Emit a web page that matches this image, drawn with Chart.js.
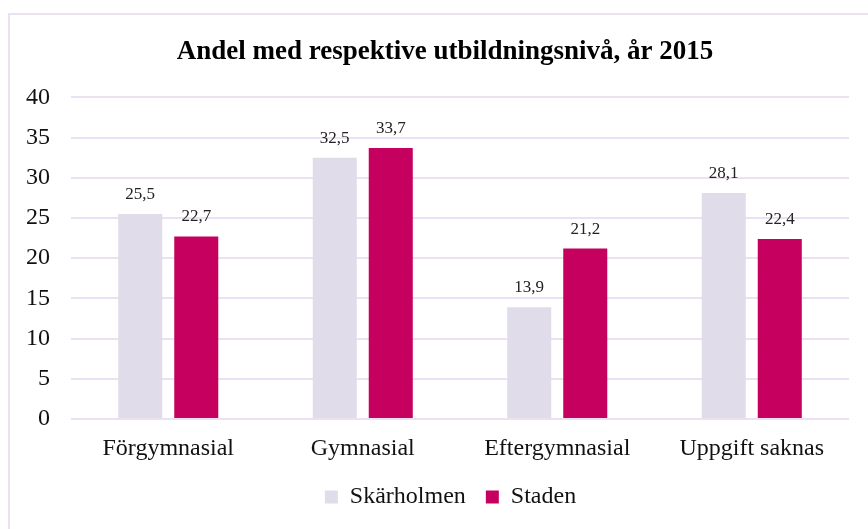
<!DOCTYPE html>
<html>
<head>
<meta charset="utf-8">
<script src="https://cdn.jsdelivr.net/npm/chart.js@4"></script>
<style>
  html, body { margin: 0; padding: 0; background: #fff; }
  #wrap { position: relative; width: 868px; height: 529px; overflow: hidden; }
  #frame { position: absolute; left: 8px; top: 13px; width: 900px; height: 600px; border: 2px solid #ebe1f2; box-sizing: border-box; }
  #barChart { position: absolute; left: 0; top: 0; }
</style>
</head>
<body>
<div id="wrap">
  <div id="frame"></div>
  <canvas id="barChart" width="868" height="529"></canvas>
</div>
<script>
const categories = ['Förgymnasial', 'Gymnasial', 'Eftergymnasial', 'Uppgift saknas'];
const skarholmen = [25.5, 32.5, 13.9, 28.1];
const staden = [22.7, 33.7, 21.2, 22.4];
const seriesNames = ['Skärholmen', 'Staden'];

const serif = "'Liberation Serif', 'Times New Roman', serif";

// write the value above every bar
const valueLabels = {
  id: 'valueLabels',
  afterDatasetsDraw(chart) {
    const ctx = chart.ctx;
    ctx.save();
    ctx.font = '17px ' + serif;
    ctx.fillStyle = '#222';
    ctx.textAlign = 'center';
    ctx.textBaseline = 'bottom';
    chart.data.datasets.forEach((ds, i) => {
      chart.getDatasetMeta(i).data.forEach((bar, j) => {
        const txt = ds.data[j].toFixed(1).replace('.', ',');
        ctx.fillText(txt, bar.x, bar.y - 11);
      });
    });
    ctx.restore();
  }
};

// title and legend sit a bit right of the canvas centre in the original
const nudgeBlocks = {
  id: 'nudgeBlocks',
  afterLayout(chart) {
    if (chart.titleBlock) chart.titleBlock.left += 19;
    if (chart.legend) chart.legend.left += 30;
  }
};

const ctx = document.getElementById('barChart').getContext('2d');
new Chart(ctx, {
  type: 'bar',
  data: {
    labels: categories,
    datasets: [
      { label: seriesNames[0], data: skarholmen, backgroundColor: '#e0dcea' },
      { label: seriesNames[1], data: staden, backgroundColor: '#c5005f' }
    ]
  },
  options: {
    responsive: false,
    animation: false,
    categoryPercentage: 0.576,
    barPercentage: 0.786,
    layout: { padding: { top: 13, left: 22, right: 19, bottom: 10 } },
    scales: {
      x: {
        grid: { display: false },
        border: { display: false },
        ticks: { color: '#111', font: { family: serif, size: 24 }, padding: 7 },
        afterFit(scale) { scale.height = 46; }
      },
      y: {
        min: 0,
        max: 40,
        ticks: { stepSize: 5, color: '#111', font: { family: serif, size: 24 }, padding: 21 },
        grid: { color: '#ebe1f2', lineWidth: 2, drawTicks: false },
        border: { display: false },
        afterFit(scale) { scale.width = 49; }
      }
    },
    plugins: {
      title: {
        display: true,
        text: 'Andel med respektive utbildningsnivå, år 2015',
        color: '#000',
        font: { family: serif, size: 27, weight: 'bold' },
        padding: { top: 23, bottom: 29 }
      },
      legend: {
        position: 'bottom',
        labels: {
          color: '#111',
          font: { family: serif, size: 24 },
          boxWidth: 13,
          boxHeight: 13,
          padding: 20
        }
      },
      tooltip: { enabled: false }
    }
  },
  plugins: [valueLabels, nudgeBlocks]
});
</script>
</body>
</html>
